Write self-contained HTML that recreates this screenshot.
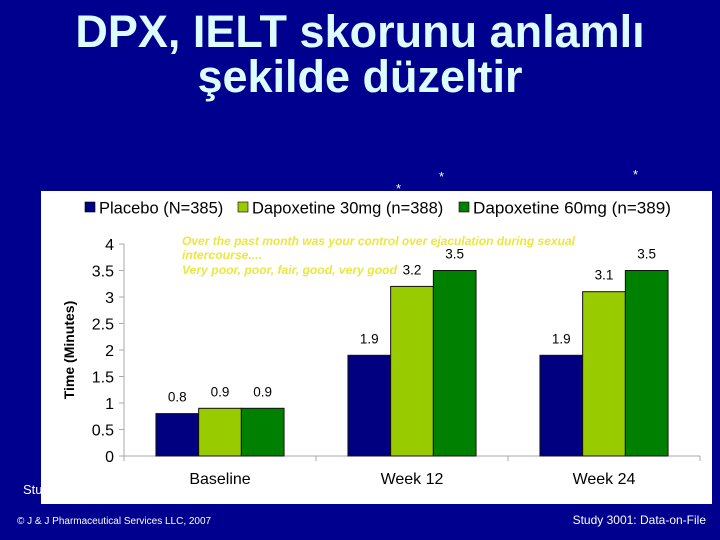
<!DOCTYPE html>
<html><head><meta charset="utf-8"><style>
body{margin:0;width:720px;height:540px;background:#00008e;overflow:hidden;font-family:"Liberation Sans",sans-serif;position:relative}
.t{position:absolute;left:0;width:720px;text-align:center;color:#ddfcff;font-weight:bold;font-size:45px;line-height:45px}
</style></head><body>
<div class="t" style="top:9px">DPX, IELT skorunu anlamlı</div>
<div class="t" style="top:54px">şekilde düzeltir</div>
<div style="position:absolute;left:23px;top:482px;color:#fff;font-size:13px">Stu</div>
<div style="position:absolute;left:17px;top:516px;color:#fff;font-size:10px">© J &amp; J Pharmaceutical Services LLC, 2007</div>
<div style="position:absolute;right:14px;top:513px;color:#fff;font-size:12px">Study 3001: Data-on-File</div>
<svg id="c" width="720" height="540" style="position:absolute;left:0;top:0">
<text x="396" y="193" fill="#fff" font-size="13">*</text>
<text x="439" y="181" fill="#fff" font-size="13">*</text>
<text x="633" y="179" fill="#fff" font-size="13">*</text>
<rect x="41" y="191" width="671" height="313" fill="#fff"/>
<g font-size="16.5" fill="#000">
<rect x="85" y="202" width="10" height="10" fill="#000080" stroke="#000" stroke-width="0.6"/>
<text x="99" y="213.5">Placebo (N=385)</text>
<rect x="238" y="202" width="10" height="10" fill="#99cc00" stroke="#000" stroke-width="0.6"/>
<text x="252" y="213.5">Dapoxetine 30mg (n=388)</text>
<rect x="459" y="202" width="10" height="10" fill="#008000" stroke="#000" stroke-width="0.6"/>
<text x="473" y="213.5" textLength="198" lengthAdjust="spacingAndGlyphs">Dapoxetine 60mg (n=389)</text>
</g>
<text transform="translate(74,350) rotate(-90)" text-anchor="middle" font-size="14" font-weight="bold">Time (Minutes)</text>
<g fill="#e8e840" font-size="11.5" font-style="italic" font-weight="bold">
<text x="182" y="245" textLength="393" lengthAdjust="spacingAndGlyphs">Over the past month was your control over ejaculation during sexual</text>
<text x="182" y="259" textLength="80" lengthAdjust="spacingAndGlyphs">intercourse....</text>
<text x="182" y="274" textLength="215" lengthAdjust="spacingAndGlyphs">Very poor, poor, fair, good, very good</text>
</g>
<g id="g"></g>
</svg>
<script>
const categories=["Baseline","Week 12","Week 24"];
const placebo=[0.8,1.9,1.9];
const dap30=[0.9,3.2,3.1];
const dap60=[0.9,3.5,3.5];
const yTicks=[0,0.5,1,1.5,2,2.5,3,3.5,4];
const yTickLabels=["0","0.5","1","1.5","2","2.5","3","3.5","4"];
const NS="http://www.w3.org/2000/svg";
const g=document.getElementById('g');
const x0=124,x1=700,y0=456,k=53;
const y=v=>y0-v*k;
const cw=(x1-x0)/categories.length;
const cx=i=>x0+cw*(i+0.5);
function mk(t,a){const e=document.createElementNS(NS,t);for(const n in a)e.setAttribute(n,a[n]);g.appendChild(e);return e;}
let e=mk('line',{x1:x0,y1:244,x2:x0,y2:y0,stroke:'#aaa'});


e=mk('line',{x1:x0,y1:y0,x2:x1,y2:y0,stroke:'#aaa'});


yTicks.forEach((v,i)=>{
 mk('line',{x1:x0-5,y1:y(v),x2:x0,y2:y(v),stroke:'#aaa'});
 const t=mk('text',{x:x0-10,y:y(v)+6,'text-anchor':'end','font-size':16});
 t.textContent=yTickLabels[i];
 
 
});
for(let i=0;i<=categories.length;i++)mk('line',{x1:x0+cw*i,y1:y0,x2:x0+cw*i,y2:y0+5,stroke:'#aaa'});
const series=[[placebo,'#000080','placebo'],[dap30,'#99cc00','dapoxetine-30mg'],[dap60,'#008000','dapoxetine-60mg']];
const bw=42.7;
categories.forEach((c,i)=>{
 const t=mk('text',{x:cx(i),y:484,'text-anchor':'middle','font-size':16});
 t.textContent=c;
 
 
 series.forEach((s,j)=>{
  const v=s[0][i],bx=cx(i)-bw*1.5+bw*j;
  const r=mk('rect',{x:bx,y:y(v),width:bw,height:v*k,fill:s[1],stroke:'#111','stroke-width':1});
  
  
  const l=mk('text',{x:bx+bw/2,y:y(v)-12,'text-anchor':'middle','font-size':13.5});
  l.textContent=v.toFixed(1);
  
  
 });
});
</script>
</body></html>
